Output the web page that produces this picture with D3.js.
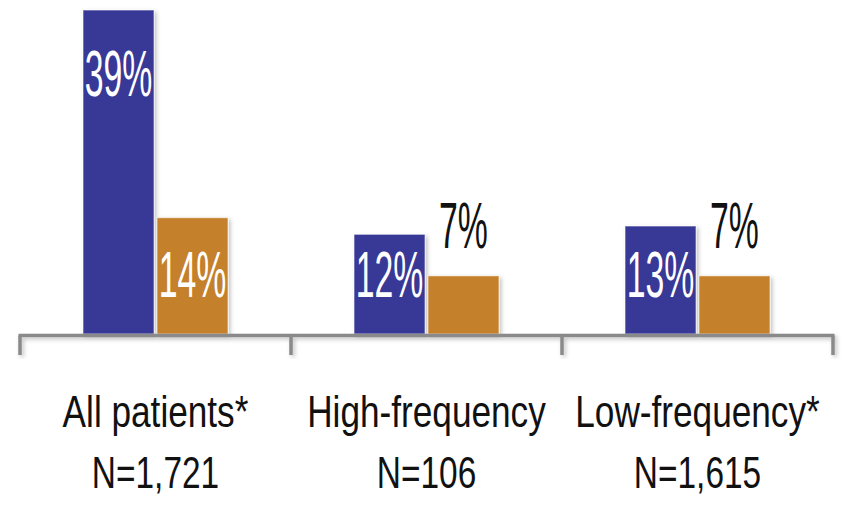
<!DOCTYPE html>
<html>
<head>
<meta charset="utf-8">
<script src="https://cdn.jsdelivr.net/npm/d3@7"></script>
<style>
  html, body { margin: 0; padding: 0; background: #fff; }
  svg { display: block; }
  text { font-family: "Liberation Sans", Arial, sans-serif; }
</style>
</head>
<body>
<svg id="chart" width="841" height="509"></svg>
<script>
// Patient groups (two-line labels) and the two compared series (percent)
const groups = ["All patients*", "High-frequency", "Low-frequency*"];
const groupN = ["N=1,721", "N=106", "N=1,615"];
const seriesNames = ["A", "B"];
const seriesA = [39, 12, 13];
const seriesB = [14, 7, 7];
const colors = ["#373896", "#c4802c"];

const svg = d3.select("#chart");

const x0 = d3.scaleBand().domain(groups).range([20, 833]).paddingInner(0).paddingOuter(0);
const x1 = d3.scaleBand().domain(seriesNames).range([63, 208]).paddingInner(0.04).paddingOuter(0);
const y = d3.scaleLinear().domain([0, 39]).range([334, 10]);

const defs = svg.append("defs");
const sh = defs.append("filter").attr("id", "shadow")
  .attr("x", "-10%").attr("y", "-10%").attr("width", "130%").attr("height", "130%");
sh.append("feDropShadow").attr("dx", 2).attr("dy", 2).attr("stdDeviation", 2)
  .attr("flood-color", "#000").attr("flood-opacity", 0.25);

const rows = groups.map((g, i) => ({
  group: g,
  values: [
    { key: "A", v: seriesA[i], c: colors[0] },
    { key: "B", v: seriesB[i], c: colors[1] }
  ]
}));

const gGroups = svg.selectAll("g.grp").data(rows).join("g")
  .attr("class", "grp")
  .attr("transform", d => `translate(${x0(d.group)},0)`);

gGroups.selectAll("rect").data(d => d.values).join("rect")
  .attr("x", d => x1(d.key))
  .attr("width", x1.bandwidth())
  .attr("y", d => y(d.v))
  .attr("height", d => y(0) - y(d.v))
  .attr("fill", d => d.c)
  .attr("stroke", "#ffffff")
  .attr("stroke-opacity", 0.6)
  .attr("stroke-width", 1)
  .attr("filter", "url(#shadow)");

// Value labels: white inside tall bars, black above short ones (condensed type)
const isInside = d => (y(0) - y(d.v)) > 70;
gGroups.selectAll("text.val").data(d => d.values).join("text")
  .attr("class", "val")
  .attr("text-anchor", "middle")
  .attr("font-size", 65)
  .attr("fill", d => isInside(d) ? "#ffffff" : "#111111")
  .attr("transform", d => {
    const cx = x1(d.key) + x1.bandwidth() / 2;
    const by = isInside(d) ? Math.min(y(d.v) + 86, 297) : y(d.v) - 28;
    return `translate(${cx},${by}) scale(0.52,1)`;
  })
  .text(d => d.v + "%");

// Axis baseline with group separators
const edges = [x0.range()[0]].concat(groups.map(g => x0(g) + x0.bandwidth()));
const axisLayer = svg.append("g").attr("filter", "url(#shadow)");
axisLayer.append("line")
  .attr("x1", edges[0] - 1.5).attr("x2", edges[edges.length - 1] + 1.5)
  .attr("y1", 335.5).attr("y2", 335.5)
  .attr("stroke", "#8a8a8a").attr("stroke-width", 3.5);
axisLayer.selectAll("line.sep").data(edges).join("line")
  .attr("class", "sep")
  .attr("x1", d => d).attr("x2", d => d)
  .attr("y1", 335.5).attr("y2", 355)
  .attr("stroke", "#8a8a8a").attr("stroke-width", 3.5);

// Category labels (condensed)
const cx0 = g => x0(g) + x0.bandwidth() / 2;
const lab = svg.append("g");
lab.selectAll("text.cat").data(groups).join("text")
  .attr("class", "cat")
  .attr("transform", g => `translate(${cx0(g)},427) scale(0.8,1)`)
  .attr("text-anchor", "middle")
  .attr("font-size", 44)
  .attr("fill", "#111")
  .text(g => g);
lab.selectAll("text.n").data(groupN).join("text")
  .attr("class", "n")
  .attr("transform", (n, i) => `translate(${cx0(groups[i])},488) scale(0.76,1)`)
  .attr("text-anchor", "middle")
  .attr("font-size", 44)
  .attr("fill", "#111")
  .text(n => n);
</script>
</body>
</html>
